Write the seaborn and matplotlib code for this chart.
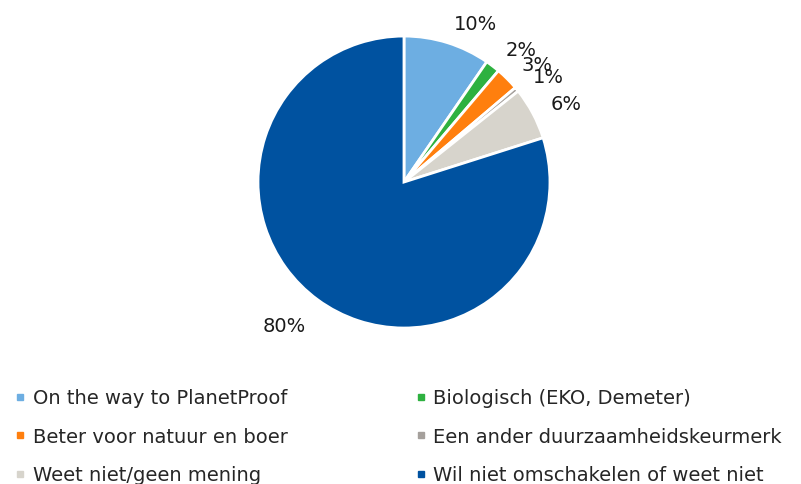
import numpy as np
import matplotlib
matplotlib.use("Agg")
import matplotlib.pyplot as plt
from matplotlib.lines import Line2D
import seaborn as sns

categories = [
    "On the way to PlanetProof",
    "Biologisch (EKO, Demeter)",
    "Beter voor natuur en boer",
    "Een ander duurzaamheidskeurmerk",
    "Weet niet/geen mening",
    "Wil niet omschakelen of weet niet",
]
values = [9.6, 1.6, 2.6, 0.5, 5.8, 79.9]
labels = ["10%", "2%", "3%", "1%", "6%", "80%"]
colors = ["#6DAEE2", "#2EB140", "#FF7F0E", "#A5A09C", "#D7D4CC", "#0052A0"]

sns.set_theme(style="white")
plt.rcParams["font.family"] = ["DejaVu Sans"]

fig = plt.figure(figsize=(8.01, 4.85), dpi=100)
ax = fig.add_axes([0.3221, 0.3216, 0.3645, 0.602])

wedges, texts = ax.pie(
    values, labels=labels, colors=colors, startangle=90, counterclock=False,
    radius=1,
    wedgeprops=dict(edgecolor="white", linewidth=2),
    textprops=dict(fontsize=14, color="#1a1a1a"),
)
# place labels just outside the rim
for w, t in zip(wedges, texts):
    ang = np.deg2rad((w.theta1 + w.theta2) / 2)
    x, y = np.cos(ang), np.sin(ang)
    t.set_position((1.14 * x, 1.14 * y))
    t.set_ha("left" if x > 0 else "right")
    t.set_va("center" if y > 0 else "top")

ax.set_xlim(-1, 1)
ax.set_ylim(-1, 1)
ax.set_aspect("equal")

# legend is filled column by column, so reorder to read row by row
order = [0, 2, 4, 1, 3, 5]
handles = [Line2D([], [], marker="s", linestyle="", color=colors[i], markersize=5) for i in order]
fig.legend(handles, [categories[i] for i in order], loc="upper left",
           bbox_to_anchor=(0.019, 0.197), ncol=2, frameon=False, fontsize=14,
           handlelength=0.5, handletextpad=0.4, columnspacing=6.6,
           labelspacing=1.0, borderaxespad=0, borderpad=0)

fig.savefig("out.png", dpi=100)
